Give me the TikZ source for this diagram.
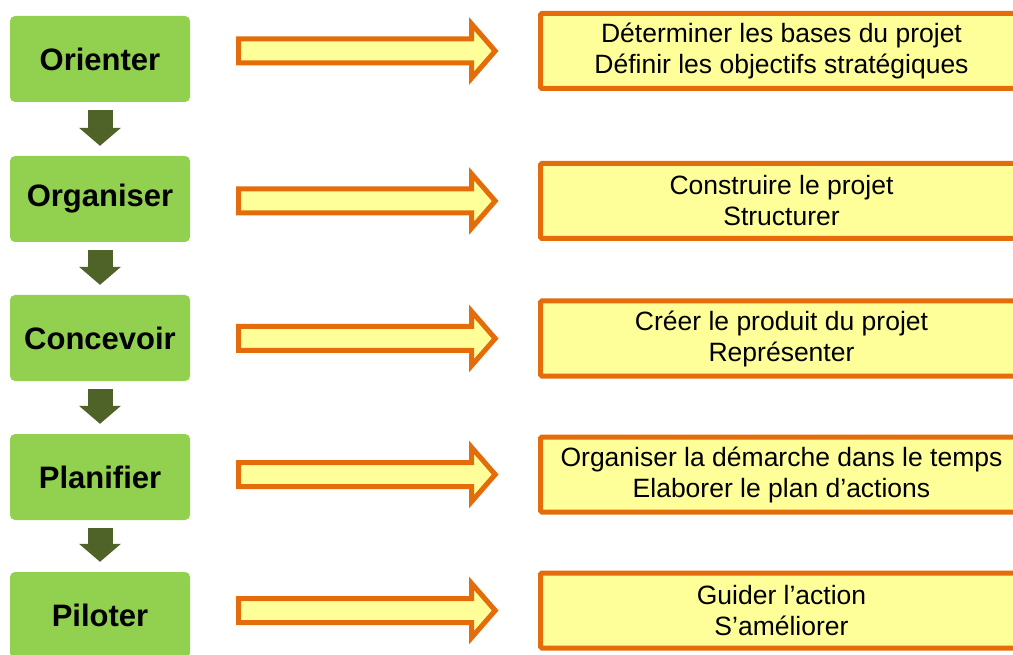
\documentclass[tikz,border=0pt]{standalone}
\usepackage{fontspec}
\setmainfont{Liberation Sans}
\usetikzlibrary{calc,arrows.meta}
\definecolor{stepgreen}{HTML}{92D050}
\definecolor{darkgreen}{HTML}{4F6228}
\definecolor{orangeline}{HTML}{E46C0A}
\definecolor{lightyellow}{HTML}{FFFF99}
\begin{document}
\begin{tikzpicture}[x=1pt,y=-1pt,
  phase/.style={fill=stepgreen, draw=none, rounded corners=5pt,
    minimum width=180pt, minimum height=86pt, inner sep=0pt,
    font=\fontsize{31}{37}\selectfont\bfseries},
  descbox/.style={fill=lightyellow, draw=orangeline, line width=5pt, rounded corners=1.5pt,
    minimum width=482pt, minimum height=75pt, inner sep=0pt, align=center,
    font=\fontsize{26.5}{31}\selectfont},
  downarr/.style={draw=darkgreen, line width=25pt, shorten <=8pt, shorten >=10pt,
    -{Triangle[width=42pt,length=18pt,line width=0pt]}},
  blockarr/.style={fill=lightyellow, draw=orangeline, line width=5pt, miter limit=10}]
\useasboundingbox (0,0) rectangle (1013,655);
\clip (0,0) rectangle (1013,655);
\fill[white] (0,0) rectangle (1013,655);
% green phases
\node[phase] (g1) at (100,59) {Orienter};
\node[phase] (g2) at (100,199) {Organiser};
\node[phase] (g3) at (100,338) {Concevoir};
\node[phase] (g4) at (100,477) {Planifier};
\node[phase] (g5) at (100,615) {Piloter};
% description boxes
\node[descbox] (r1) at (781.5,51) {Déterminer les bases du projet\\Définir les objectifs stratégiques};
\node[descbox] (r2) at (781.5,201) {Construire le projet\\Structurer};
\node[descbox] (r3) at (781.5,338.5) {Créer le produit du projet\\Représenter};
\node[descbox] (r4) at (781.5,474.5) {Organiser la démarche dans le temps\\Elaborer le plan d’actions};
\node[descbox] (r5) at (781.5,610.5) {Guider l’action\\S’améliorer};
% down arrows
\draw[downarr] (g1.south) -- (g2.north);
\draw[downarr] (g2.south) -- (g3.north);
\draw[downarr] (g3.south) -- (g4.north);
\draw[downarr] (g4.south) -- (g5.north);
% block arrows
\foreach \i in {1,...,5}{
  \draw[blockarr] ($(g\i.east|-r\i.west)+(48.5,12)$) -- ++(233,0) -- ++(0,15)
    -- ++(23.5,-27) -- ++(-23.5,-27) -- ++(0,15) -- ++(-233,0) -- cycle;
}
\end{tikzpicture}
\end{document}
